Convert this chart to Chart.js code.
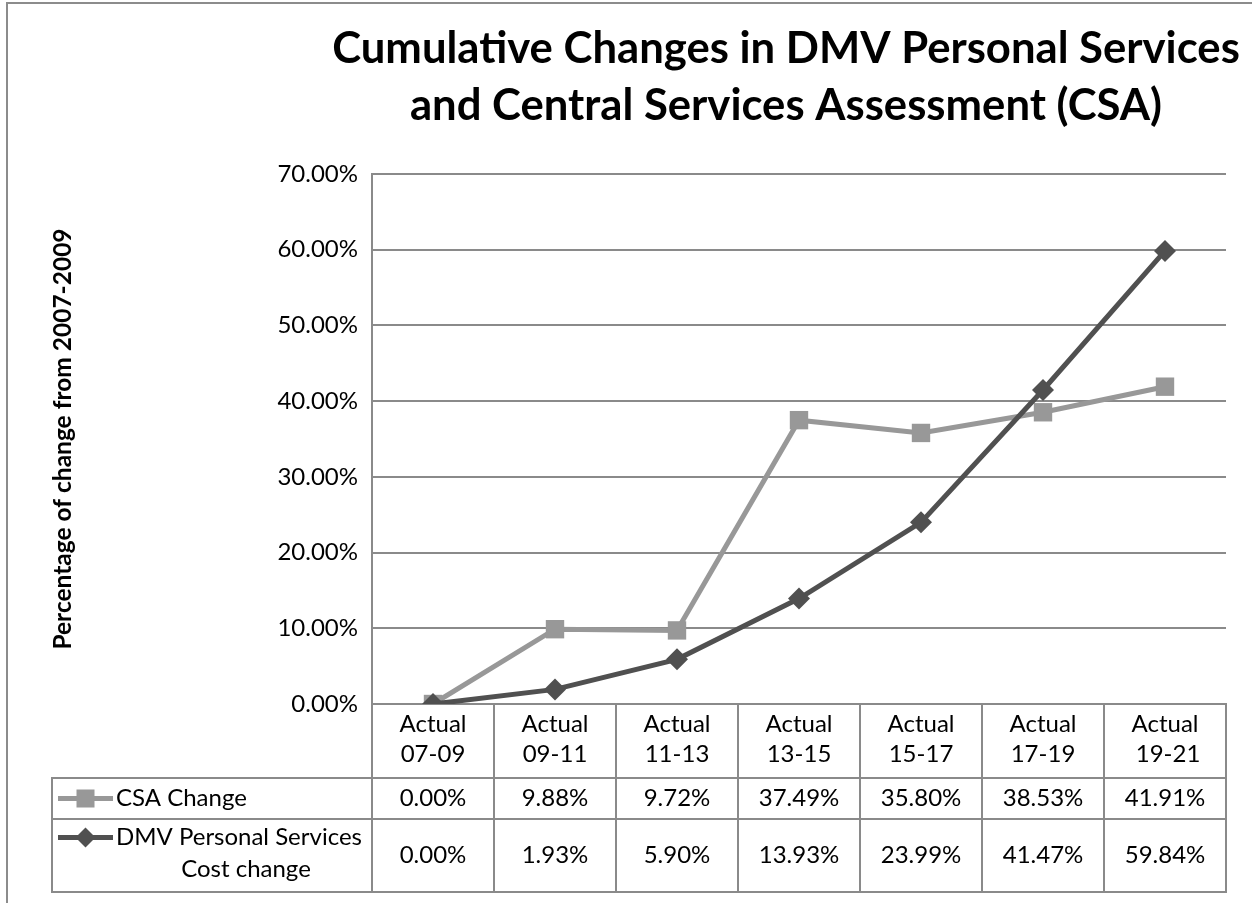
<!DOCTYPE html>
<html>
<head>
<meta charset="utf-8">
<script src="https://cdn.jsdelivr.net/npm/chart.js@4/dist/chart.umd.min.js"></script>
<style>
html,body{margin:0;padding:0;background:#fff;overflow:hidden}
#wrap{width:1252px;height:903px;position:relative}
</style>
</head>
<body>
<div id="wrap"><canvas id="c" width="1252" height="903"></canvas></div>
<script>
// ---- data ----
const categories = [
  ['Actual', '07-09'],
  ['Actual', '09-11'],
  ['Actual', '11-13'],
  ['Actual', '13-15'],
  ['Actual', '15-17'],
  ['Actual', '17-19'],
  ['Actual', ' 19-21']
];
const csaValues = [0.00, 9.88, 9.72, 37.49, 35.80, 38.53, 41.91];
const dmvValues = [0.00, 1.93, 5.90, 13.93, 23.99, 41.47, 59.84];
const csaName = 'CSA Change';
const dmvName = ['DMV Personal Services', 'Cost change'];
const yTickValues = [0, 10, 20, 30, 40, 50, 60, 70];
const titleLines = ['Cumulative Changes in DMV Personal Services', 'and Central Services Assessment (CSA)'];
const yAxisTitle = 'Percentage of change from 2007-2009';

// ---- styles ----
const FONT = 'Lato, "Open Sans", "DejaVu Sans", sans-serif';
const TXT = 24;
const CSA_COLOR = '#989898';
const DMV_COLOR = '#505050';
const LINE_COLOR = '#8a8a8a';
const fmt = v => v.toFixed(2) + '%';

const tablePlugin = {
  id: 'excelTable',
  beforeDraw(chart) {
    const ctx = chart.ctx;
    ctx.save();
    ctx.fillStyle = '#fff';
    ctx.fillRect(0, 0, chart.width, chart.height);
    ctx.strokeStyle = '#8c8c8c';
    ctx.lineWidth = 2;
    ctx.strokeRect(7, 3, 1400, 1100);
    // title
    ctx.fillStyle = '#000';
    ctx.textAlign = 'center';
    ctx.textBaseline = 'alphabetic';
    let size = 46;
    ctx.font = 'bold ' + size + 'px ' + FONT;
    const w = ctx.measureText(titleLines[0]).width;
    size = size * 908 / w;
    ctx.font = 'bold ' + size + 'px ' + FONT;
    ctx.fillText(titleLines[0], 786, 63);
    ctx.fillText(titleLines[1], 786, 120);
    ctx.restore();
  },
  afterDraw(chart) {
    const ctx = chart.ctx;
    const xs = chart.scales.x;
    const area = chart.chartArea;
    const n = categories.length;
    const bounds = [];
    for (let i = 0; i <= n; i++) {
      if (i === 0) bounds.push(area.left);
      else if (i === n) bounds.push(area.right);
      else bounds.push((xs.getPixelForValue(i - 1) + xs.getPixelForValue(i)) / 2);
    }
    const tableLeft = 52;
    const headerBottom = xs.bottom;
    const row1 = headerBottom + 41;
    const row2 = row1 + 73;
    ctx.save();
    ctx.strokeStyle = LINE_COLOR;
    ctx.lineWidth = 2;
    ctx.beginPath();
    [headerBottom, row1, row2].forEach(y => { ctx.moveTo(tableLeft, y); ctx.lineTo(area.right + 1, y); });
    ctx.moveTo(tableLeft, headerBottom - 1); ctx.lineTo(tableLeft, row2 + 1);
    bounds.forEach(x => { ctx.moveTo(x, area.bottom); ctx.lineTo(x, row2 + 1); });
    ctx.stroke();

    ctx.fillStyle = '#000';
    ctx.font = TXT + 'px ' + FONT;
    ctx.textAlign = 'center';
    ctx.textBaseline = 'middle';
    const y1 = (headerBottom + row1) / 2;
    const y2 = (row1 + row2) / 2;
    for (let i = 0; i < n; i++) {
      const cx = (bounds[i] + bounds[i + 1]) / 2;
      ctx.fillText(fmt(csaValues[i]), cx, y1);
      ctx.fillText(fmt(dmvValues[i]), cx, y2);
    }
    // legend keys
    const keyX0 = 58, keyX1 = 113, keyC = 85.5;
    const dmvY1 = y2 - 18, dmvY2 = y2 + 14;
    ctx.lineWidth = 5;
    ctx.strokeStyle = CSA_COLOR;
    ctx.beginPath(); ctx.moveTo(keyX0, y1); ctx.lineTo(keyX1, y1); ctx.stroke();
    ctx.fillStyle = CSA_COLOR;
    ctx.fillRect(keyC - 9, y1 - 9, 18, 18);
    ctx.strokeStyle = DMV_COLOR;
    ctx.beginPath(); ctx.moveTo(keyX0, dmvY1); ctx.lineTo(keyX1, dmvY1); ctx.stroke();
    ctx.fillStyle = DMV_COLOR;
    ctx.beginPath();
    ctx.moveTo(keyC, dmvY1 - 10); ctx.lineTo(keyC + 10, dmvY1); ctx.lineTo(keyC, dmvY1 + 10); ctx.lineTo(keyC - 10, dmvY1);
    ctx.closePath(); ctx.fill();
    ctx.fillStyle = '#000';
    ctx.textAlign = 'left';
    ctx.fillText(csaName, 116, y1);
    ctx.fillText(dmvName[0], 116, dmvY1);
    const wl = ctx.measureText(dmvName[0]).width;
    ctx.textAlign = 'center';
    ctx.fillText(dmvName[1], 116 + wl / 2 + 7, dmvY2);
    ctx.restore();
  }
};

new Chart(document.getElementById('c'), {
  type: 'line',
  data: {
    labels: categories,
    datasets: [
      {
        label: csaName, data: csaValues,
        borderColor: CSA_COLOR, backgroundColor: CSA_COLOR,
        borderWidth: 5, pointStyle: 'rect', pointRadius: 13, pointBorderWidth: 0,
        pointHoverRadius: 13, tension: 0, order: 2
      },
      {
        label: dmvName.join(' '), data: dmvValues,
        borderColor: DMV_COLOR, backgroundColor: DMV_COLOR,
        borderWidth: 5, pointStyle: 'rectRot', pointRadius: 11, pointBorderWidth: 0,
        pointHoverRadius: 11, tension: 0, order: 1
      }
    ]
  },
  options: {
    responsive: false,
    animation: false,
    devicePixelRatio: 1,
    layout: { padding: { left: 8, top: 174, right: 26, bottom: 125 } },
    plugins: { legend: { display: false }, title: { display: false }, tooltip: { enabled: false } },
    scales: {
      x: {
        offset: true,
        grid: { display: false, drawTicks: false },
        border: { display: true, color: LINE_COLOR, width: 2 },
        ticks: { font: { family: FONT, size: TXT, lineHeight: '30px' }, color: '#000', padding: 5, maxRotation: 0, autoSkip: false },
        afterFit(s) { s.height = 74; }
      },
      y: {
        min: 0, max: 70,
        afterBuildTicks(s) { s.ticks = yTickValues.map(v => ({ value: v })); },
        ticks: { callback: v => fmt(v), font: { family: FONT, size: TXT }, color: '#000', padding: 14 },
        grid: { color: LINE_COLOR, lineWidth: 2, drawTicks: false },
        border: { display: true, color: LINE_COLOR, width: 2 },
        title: { display: true, text: yAxisTitle, color: '#000', font: { family: FONT, size: 24.5, weight: 'bold' }, padding: { top: 40, bottom: 0 } },
        afterFit(s) { s.width = 364; }
      }
    }
  },
  plugins: [tablePlugin]
});
</script>
</body>
</html>
